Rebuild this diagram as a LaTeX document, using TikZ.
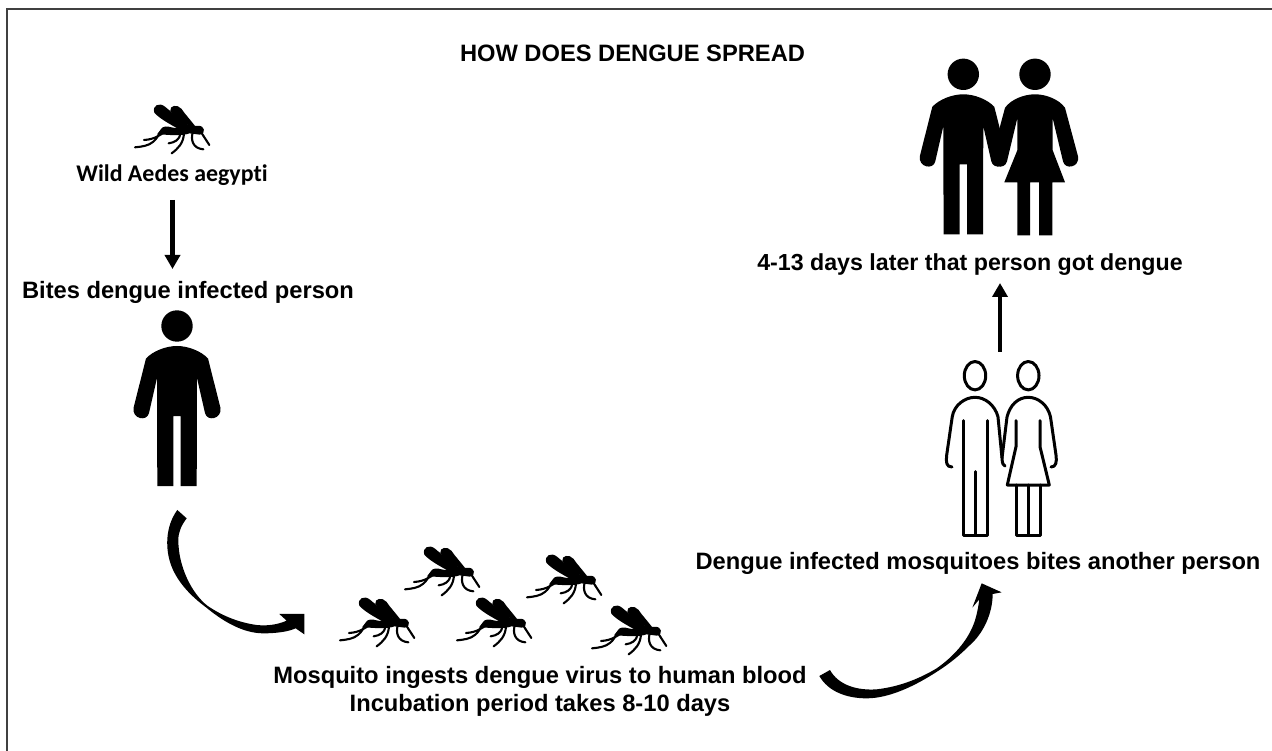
\documentclass[tikz,border=0pt]{standalone}
\usepackage{fontspec}
\setmainfont{Liberation Sans}
\newfontfamily\calib[Ligatures=NoCommon]{Carlito}
\usetikzlibrary{arrows.meta}
\tikzset{
  x=1pt,y=-1pt,
  lab/.style={inner sep=0pt,font=\bfseries\fontsize{23.7}{28}\selectfont,text=black},
  frameline/.style={draw=black!75,line width=2pt},
  straightarrow/.style={line width=4.5pt,-{Triangle[width=15pt,length=14pt]}},
  outline/.style={line width=3pt,line cap=round,line join=round},
  leg/.style={line width=2.1pt,line cap=round,line join=round},
  mosquito/.pic={
    \begin{scope}[scale=1/3]
      \fill (103,68) .. controls (96,46) and (118,36) .. (135,50) .. controls (158,70) and (188,92) .. (212,110) -- (198,130) .. controls (165,110) and (122,90) .. (103,68) -- cycle;
      \fill (151,63) .. controls (148,46) and (172,42) .. (184,56) .. controls (197,75) and (212,90) .. (228,112) -- (208,108) .. controls (188,94) and (165,80) .. (151,63) -- cycle;
      \fill (128,112) .. controls (140,106) and (150,112) .. (165,114) -- (195,106) -- (232,108) .. controls (256,104) and (258,132) .. (240,134) -- (208,130) .. controls (190,138) and (150,136) .. (112,132) -- cycle;
      \draw[leg] (136,114) .. controls (120,115) and (118,140) .. (100,155) .. controls (85,168) and (65,170) .. (45,172);
      \draw[leg] (135,125) .. controls (120,135) and (105,148) .. (72,150);
      \draw[leg] (182,130) .. controls (178,150) and (165,157) .. (146,160);
      \draw[leg] (192,130) .. controls (190,160) and (175,175) .. (155,190);
      \draw[leg] (218,128) .. controls (212,150) and (218,175) .. (250,178);
      \draw[leg] (244,128) -- (268,165);
    \end{scope}
  },
  man/.pic={
    \fill (0,0) circle (15.7);
    \fill (0,20) .. controls (11,20) and (24,25) .. (31,32.5) -- (43.5,82)
      .. controls (45,93) and (30,96) .. (28,87) -- (20,52) -- (19.7,160) -- (3.7,160) -- (3.7,90)
      -- (-3.7,90) -- (-3.7,160) -- (-19.7,160) -- (-20,52) -- (-28,87)
      .. controls (-30,96) and (-45,93) .. (-43.5,82) -- (-31,32.5)
      .. controls (-24,25) and (-11,20) .. (0,20) -- cycle;
  },
  woman/.pic={
    \fill (0,0) circle (15.7);
    \fill (0,20) .. controls (11,20) and (24,25) .. (30,33.5) -- (43,82)
      .. controls (45,93) and (30,96) .. (28,87) -- (17.7,44) -- (17.7,76) -- (30,108) -- (17.3,108)
      -- (17.3,161) -- (4,161) -- (4,108) -- (-5,108) -- (-5,161) -- (-17.7,161) -- (-17.7,108) -- (-30.7,108)
      -- (-17.7,76) -- (-17.7,44) -- (-28,87)
      .. controls (-30,96) and (-45,93) .. (-43,82) -- (-30,33.5)
      .. controls (-24,25) and (-11,20) .. (0,20) -- cycle;
  }
}
\begin{document}
\begin{tikzpicture}
\useasboundingbox (0,0) rectangle (1272,751);
\fill[white] (0,0) rectangle (1272,751);
\draw[frameline] (6.5,751) -- (6.5,9.5) -- (1272,9.5);

% texts
\node[lab] (title) at (632.5,53) {HOW DOES DENGUE SPREAD};
\node[lab] (wild) at (172,175) {\calib\fontsize{23.9}{28}\selectfont Wild Aedes aegypti};
\node[lab] (bites) at (188,292) {Bites dengue infected person};
\node[lab,align=center] (ingest) at (540,691) {Mosquito ingests dengue virus to human blood\\Incubation period takes 8-10 days};
\node[lab] (another) at (978,563) {Dengue infected mosquitoes bites another person};
\node[lab] (later) at (970,265) {\fontsize{23.2}{28}\selectfont 4-13 days later that person got dengue};
\coordinate (outlinetop) at (1000,352);

% straight arrows
\coordinate (wildfoot) at (172.5,200);
\coordinate (bitestop) at (172.5,269);
\draw[straightarrow] (wildfoot) -- (bitestop);
\coordinate (latertop) at (1000,283);
\draw[straightarrow] (outlinetop) -- (latertop);

% mosquitoes
\pic at (120,90) {mosquito};
\pic at (390,532) {mosquito};
\pic at (512,540) {mosquito};
\pic at (325,583) {mosquito};
\pic at (442,583) {mosquito};
\pic at (577,591) {mosquito};

% solid figures
\pic at (177,326) {man};
\pic at (963.3,74.3) {man};
\pic at (1035,74.3) {woman};

% outline man and woman
\begin{scope}[outline]
  \draw (975,375.7) ellipse (10.7 and 14.2);
  \draw (1028.3,375.7) ellipse (10.7 and 14.2);
  \draw (952,467) .. controls (946,467) and (946,462) .. (946.7,455) -- (952.2,417)
    .. controls (954,405) and (965,397.3) .. (975,397.3)
    .. controls (985,397.3) and (995,405) .. (998,417) -- (1002,458)
    .. controls (1002,464) and (1004,466) .. (1005,466);
  \draw (963.3,420.7) -- (963.3,535) -- (987.3,535) -- (987.3,420.7);
  \draw (975,471.7) -- (975,535);
  \draw (1002,458) -- (1007,417)
    .. controls (1010,405) and (1018,397.3) .. (1028.3,397.3)
    .. controls (1038,397.3) and (1048,405) .. (1050.5,417) -- (1056,455)
    .. controls (1057,462) and (1056,467) .. (1051,467);
  \draw (1016,420.7) -- (1016,446.7) -- (1007.3,485) -- (1049.3,485) -- (1040,446.7) -- (1040,420.7);
  \draw (1016,485) -- (1016,535) -- (1040,535) -- (1040,485);
  \draw (1028.3,485) -- (1028.3,535);
\end{scope}

% curved arrows
\begin{scope}[shift={(120,300)},scale=1/3]
  \fill (172,630) .. controls (135,680) and (135,750) .. (155,800)
    .. controls (175,850) and (215,890) .. (258,922)
    .. controls (310,965) and (370,1000) .. (430,1000)
    .. controls (470,1000) and (505,995) .. (527,985) -- (553,1003) -- (553,942) -- (478,942) -- (500,962)
    .. controls (470,975) and (440,978) .. (410,975)
    .. controls (360,968) and (310,950) .. (262,917)
    .. controls (215,880) and (175,800) .. (175,720)
    .. controls (175,695) and (185,675) .. (200,655) -- cycle;
\end{scope}
\begin{scope}[shift={(810,570)},scale=1/3]
  \fill (60,300) .. controls (85,345) and (140,362) .. (200,358)
    .. controls (270,350) and (330,325) .. (380,295)
    .. controls (430,260) and (470,215) .. (490,165)
    .. controls (500,140) and (505,110) .. (508,88) -- (487,113) -- (515,40) -- (575,67) -- (548,72)
    .. controls (548,130) and (520,190) .. (480,225)
    .. controls (450,255) and (420,280) .. (384,303)
    .. controls (320,345) and (240,385) .. (170,385)
    .. controls (110,385) and (55,365) .. (28,318) -- cycle;
\end{scope}
\end{tikzpicture}
\end{document}
